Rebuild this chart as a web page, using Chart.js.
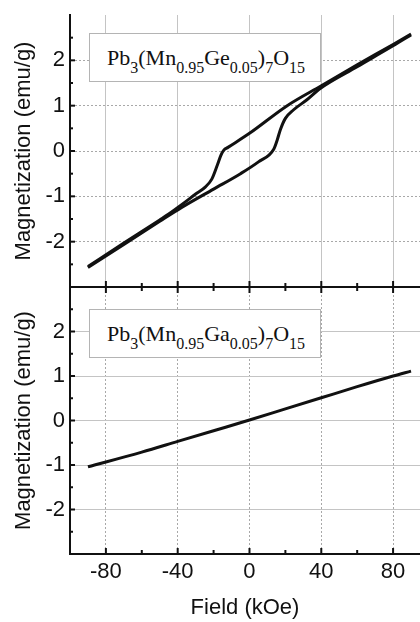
<!DOCTYPE html>
<html>
<head>
<meta charset="utf-8">
<script src="https://cdn.jsdelivr.net/npm/chart.js@4"></script>
<style>
  body { margin: 0; background: #fff; }
  #wrap { position: relative; width: 420px; height: 622px; overflow: hidden; }
  canvas { position: absolute; left: 0; }
  #top-chart { top: 0; }
  #bottom-chart { top: 280px; }
  .label {
    position: absolute; left: 89px; width: 232px; height: 49px; box-sizing: border-box;
    border: 1px solid #b4b4b4; background: #fff; color: #111;
    font: 22px "Liberation Serif", "Times New Roman", serif; line-height: 47px;
    padding-left: 17px; white-space: nowrap;
  }
  .label sub { font-size: 16px; line-height: 0; vertical-align: -8px; }
</style>
</head>
<body>
<div id="wrap">
  <canvas id="top-chart" width="420" height="290"></canvas>
  <canvas id="bottom-chart" width="420" height="342"></canvas>
  <div class="label" style="top:33px">Pb<sub>3</sub>(Mn<sub>0.95</sub>Ge<sub>0.05</sub>)<sub>7</sub>O<sub>15</sub></div>
  <div class="label" style="top:309px">Pb<sub>3</sub>(Mn<sub>0.95</sub>Ga<sub>0.05</sub>)<sub>7</sub>O<sub>15</sub></div>
</div>
<script>
// axis ticks
const fieldTicks = [-80, -40, 0, 40, 80];
const fieldMinor = [-100, -60, -20, 20, 60];
const magTicks = [-2, -1, 0, 1, 2];
const magMinor = [-2.5, -1.5, -0.5, 0.5, 1.5, 2.5];

// Ge sample, hysteresis loop (two branches, both listed by increasing field)
const upperField = [-90, -70, -50, -45, -38, -30, -24.5, -21, -18, -16, -14.3, -12, 0, 21, 40, 60, 80, 90];
const upperMag   = [-2.55, -2.03, -1.52, -1.39, -1.19, -0.95, -0.79, -0.62, -0.32, -0.1, 0.02, 0.08, 0.39, 1.0, 1.44, 1.9, 2.35, 2.58];
const lowerField = [-90, -70, -50, -38, -20, -5, 5, 13.5, 15.5, 17.2, 20, 24.6, 32, 39.4, 60, 80, 90];
const lowerMag   = [-2.57, -2.06, -1.55, -1.25, -0.84, -0.5, -0.24, 0.04, 0.25, 0.47, 0.72, 0.91, 1.13, 1.38, 1.86, 2.32, 2.56];

// Ga sample
const gaField = [-90, -60, -40, -20, 0, 20, 40, 60, 80, 90];
const gaMag   = [-1.04, -0.71, -0.47, -0.23, 0.01, 0.26, 0.51, 0.76, 1.0, 1.11];

const pts = (xs, ys) => xs.map((x, i) => ({x: x, y: ys[i]}));

const sansFont = {family: "'Liberation Sans', Arial, sans-serif", size: 22};

// inward tick marks, the way the original plot has them
const tickMarks = {
    id: 'tickMarks',
    afterDraw(chart, args, opts) {
        const {ctx, chartArea: a, scales: {x, y}} = chart;
        ctx.save();
        ctx.strokeStyle = '#111';
        ctx.lineWidth = 2;
        const mark = (x1, y1, x2, y2) => {
            ctx.beginPath(); ctx.moveTo(x1, y1); ctx.lineTo(x2, y2); ctx.stroke();
        };
        magTicks.forEach(v => { const p = y.getPixelForValue(v); mark(a.left, p, a.left + 5, p); });
        magMinor.forEach(v => { const p = y.getPixelForValue(v); mark(a.left, p, a.left + 3, p); });
        opts.edges.forEach(edge => {
            const y0 = edge === 'top' ? a.top : a.bottom;
            const dir = edge === 'top' ? 1 : -1;
            fieldTicks.forEach(v => { const p = x.getPixelForValue(v); mark(p, y0, p, y0 + dir * 6); });
            fieldMinor.forEach(v => { const p = x.getPixelForValue(v); mark(p, y0, p, y0 + dir * 4); });
        });
        ctx.restore();
    }
};

function makeOptions(cfg) {
    return {
        responsive: false,
        animation: false,
        layout: {padding: {top: cfg.padTop, left: 0, right: 0, bottom: 0}},
        plugins: {legend: {display: false}, tooltip: {enabled: false}, tickMarks: {edges: cfg.edges}},
        elements: {point: {radius: 0}},
        scales: {
            x: {
                type: 'linear', min: -100, max: 95,
                afterBuildTicks: s => { s.ticks = fieldTicks.map(v => ({value: v})); },
                afterFit: s => { s.height = cfg.xHeight; s.paddingLeft = 0; s.paddingRight = 0; },
                grid: {color: cfg.xGridColor, lineWidth: 1, drawTicks: false},
                border: {display: true, color: '#111', width: 2, dash: cfg.xDash},
                ticks: {display: cfg.xLabels, font: sansFont, color: '#111', padding: 5, maxRotation: 0},
                title: {display: cfg.xLabels, text: 'Field (kOe)', font: sansFont, color: '#111', padding: {top: 0, bottom: 1}}
            },
            y: {
                type: 'linear', min: -3, max: 3,
                afterBuildTicks: s => { s.ticks = magTicks.map(v => ({value: v})); },
                afterFit: s => { s.width = 70; s.paddingTop = 0; s.paddingBottom = 0; },
                grid: {color: cfg.yGridColor, lineWidth: 1, drawTicks: false},
                border: {display: true, color: '#111', width: 2, dash: cfg.yDash},
                ticks: {font: sansFont, color: '#111', padding: 5},
                title: {display: true, text: 'Magnetization (emu/g)', font: sansFont, color: '#111', padding: {top: 11, bottom: 0}}
            }
        }
    };
}

const lineStyle = {
    borderColor: '#111', borderWidth: 3, fill: false,
    cubicInterpolationMode: 'monotone', pointRadius: 0
};

new Chart(document.getElementById('top-chart'), {
    type: 'line',
    data: {
        datasets: [
            Object.assign({label: 'upper', data: pts(upperField, upperMag)}, lineStyle),
            Object.assign({label: 'lower', data: pts(lowerField, lowerMag)}, lineStyle)
        ]
    },
    options: makeOptions({
        padTop: 15, xHeight: 3, xLabels: false, edges: ['bottom'],
        xGridColor: '#c4c4c4', xDash: [],
        yGridColor: '#a8a8a8', yDash: [2, 2]
    }),
    plugins: [tickMarks]
});

new Chart(document.getElementById('bottom-chart'), {
    type: 'line',
    data: {
        datasets: [
            Object.assign({label: 'Ga', data: pts(gaField, gaMag)}, lineStyle)
        ]
    },
    options: makeOptions({
        padTop: 7, xHeight: 68, xLabels: true, edges: ['top', 'bottom'],
        xGridColor: '#a8a8a8', xDash: [2, 2],
        yGridColor: '#c4c4c4', yDash: []
    }),
    plugins: [tickMarks]
});
</script>
</body>
</html>
